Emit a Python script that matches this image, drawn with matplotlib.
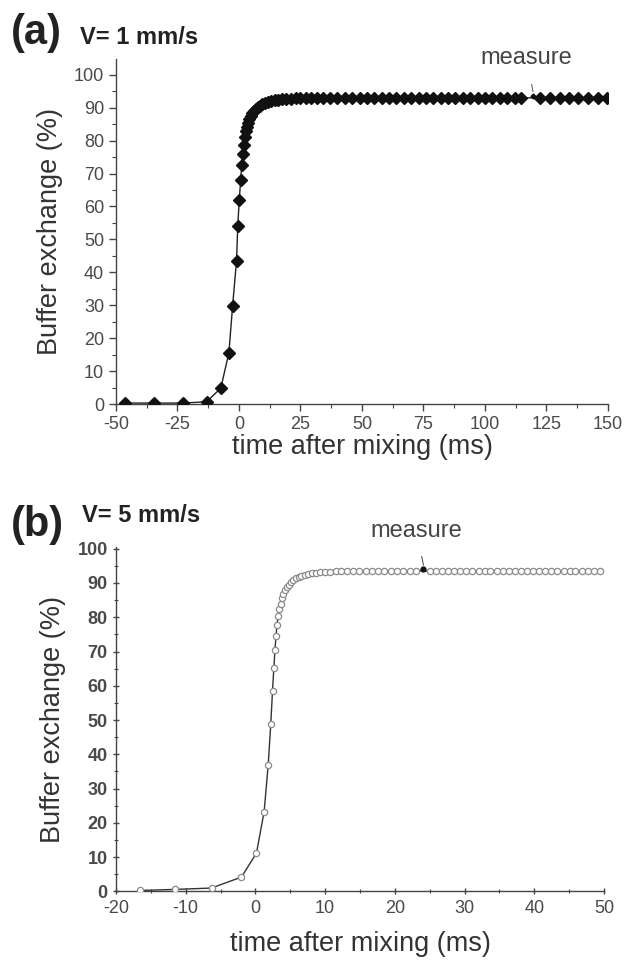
import matplotlib
matplotlib.use('Agg')
import matplotlib.pyplot as plt
from matplotlib.ticker import MultipleLocator

plt.rcParams['font.family'] = ['Liberation Sans', 'DejaVu Sans']
plt.rcParams['axes.unicode_minus'] = False

# panel (a): V = 1 mm/s
t_a = [-46.5, -34.5, -22.6, -13.2, -7.4, -4.1, -2.6, -1.0, -0.5, 0.1, 0.7, 1.1, 1.5,
       1.9, 2.3, 2.7, 3.1, 3.6, 4.1, 4.7, 5.3, 6.0, 6.8, 7.6, 8.5, 9.5, 10.6, 11.8,
       13.1, 14.5, 16.0, 17.6, 19.3, 21.1, 23.0, 25.0, 27.1, 29.3, 31.6, 34.0, 37.0,
       40.0, 43.0, 46.0, 49.0, 52.0, 55.0, 58.0, 61.0, 64.0, 67.0, 70.0, 73.0, 76.0,
       79.0, 82.0, 85.0, 88.0, 91.0, 94.0, 97.0, 100.0, 103.0, 106.0, 109.0, 112.0,
       114.5, 122.5, 126.4, 130.3, 134.2, 138.0, 141.9, 145.8, 149.6]
y_a = [0.3, 0.3, 0.3, 0.7, 4.8, 15.6, 29.8, 43.5, 54.0, 62.0, 68.0, 72.6, 76.0,
       78.8, 81.0, 82.8, 84.2, 85.5, 86.6, 87.5, 88.3, 89.0, 89.6, 90.1, 90.6, 91.0,
       91.4, 91.7, 92.0, 92.2, 92.4, 92.5, 92.6, 92.7, 92.8, 92.9, 92.9, 93.0, 93.0,
       93.0, 93.0, 93.0, 93.0, 93.0, 93.0, 93.0, 93.0, 93.0, 93.0, 93.0, 93.0, 93.0,
       93.0, 93.0, 93.0, 93.0, 93.0, 93.0, 93.0, 93.0, 93.0, 93.0, 93.0, 93.0, 93.0,
       93.0, 93.0, 93.0, 93.0, 93.0, 93.0, 93.0, 93.0, 93.0, 93.0]
measure_a = (119.5, 93.4)

# panel (b): V = 5 mm/s
t_b = [-16.5, -11.5, -6.3, -2.0, 0.15, 1.25, 1.83, 2.2, 2.45, 2.64, 2.8, 2.95, 3.1,
       3.25, 3.4, 3.6, 3.8, 4.0, 4.25, 4.5, 4.8, 5.1, 5.45, 5.8, 6.2, 6.6, 7.1, 7.6,
       8.1, 8.7, 9.3, 10.0, 10.7, 11.5, 12.3, 13.1, 14.0, 14.9, 15.8, 16.7, 17.6,
       18.5, 19.4, 20.3, 21.2, 22.1, 23.0, 25.0, 25.9, 26.8, 27.6, 28.5, 29.4, 30.2,
       31.1, 32.0, 32.9, 33.7, 34.6, 35.5, 36.3, 37.2, 38.1, 39.0, 39.8, 40.7, 41.6,
       42.4, 43.3, 44.2, 45.1, 45.9, 46.8, 47.7, 48.5, 49.4]
y_b = [0.3, 0.6, 1.0, 4.2, 11.2, 23.3, 36.9, 48.8, 58.5, 65.2, 70.4, 74.6, 77.8,
       80.3, 82.3, 84.0, 85.5, 86.7, 87.8, 88.7, 89.5, 90.2, 90.8, 91.3, 91.7, 92.0,
       92.3, 92.6, 92.8, 93.0, 93.1, 93.2, 93.3, 93.4, 93.4, 93.5, 93.5, 93.5, 93.5,
       93.5, 93.5, 93.5, 93.5, 93.5, 93.5, 93.5, 93.5, 93.5, 93.5, 93.5, 93.5, 93.5,
       93.5, 93.5, 93.5, 93.5, 93.5, 93.5, 93.5, 93.5, 93.5, 93.5, 93.5, 93.5, 93.5,
       93.5, 93.5, 93.5, 93.5, 93.5, 93.5, 93.5, 93.5, 93.5, 93.5, 93.5]
measure_b = (24.1, 94.2)

tick_grey = '#4a4a4a'

fig = plt.figure(figsize=(6.29, 9.65), dpi=100)
ax1 = fig.add_axes([0.1844, 0.5813, 0.7822, 0.3576])
ax2 = fig.add_axes([0.1844, 0.0762, 0.7759, 0.3570])


def style_axis(ax, direction, xpad):
    for s in ['top', 'right']:
        ax.spines[s].set_visible(False)
    for s in ['left', 'bottom']:
        ax.spines[s].set_color('#444444')
        ax.spines[s].set_linewidth(1.0)
    ax.tick_params(which='major', direction=direction, length=5, width=1,
                   color='#444444', labelsize=13, labelcolor=tick_grey)
    ax.tick_params(which='minor', direction=direction, length=3, width=0.8,
                   color='#444444')
    ax.set_ylabel('Buffer exchange (%)', fontsize=19.5, color='#333333', labelpad=8)
    ax.set_xlabel('time after mixing (ms)', fontsize=19.5, color='#333333', labelpad=xpad)


# (a)
ax1.plot(t_a, y_a, color='#222222', lw=1.0, marker='D', ms=6.5,
         mfc='#111111', mec='#111111', zorder=3)
ax1.plot(*measure_a, marker='D', ms=2.5, color='#111111', zorder=4)
ax1.annotate('measure', xy=(measure_a[0], measure_a[1] + 1.5),
             xytext=(117, 105), ha='center', va='center', fontsize=17,
             color='#444444', annotation_clip=False,
             arrowprops=dict(arrowstyle='-', color='#666666', lw=0.8, shrinkA=9, shrinkB=0))
ax1.set_xlim(-50, 150)
ax1.set_ylim(0, 104.8)
ax1.xaxis.set_major_locator(MultipleLocator(25))
ax1.xaxis.set_minor_locator(MultipleLocator(12.5))
ax1.set_yticks(range(0, 101, 10))
ax1.yaxis.set_minor_locator(MultipleLocator(5))
style_axis(ax1, 'out', 1)

# (b)
ax2.plot(t_b, y_b, color='#333333', lw=1.0, marker='o', ms=4.5,
         mfc='white', mec='#8a8a8a', mew=0.9, zorder=3)
ax2.plot(*measure_b, marker='o', ms=3.5, color='#111111', zorder=4)
ax2.annotate('measure', xy=(measure_b[0], measure_b[1] + 1.0),
             xytext=(23.1, 105.3), ha='center', va='center', fontsize=17,
             color='#444444', annotation_clip=False,
             arrowprops=dict(arrowstyle='-', color='#555555', lw=0.8, shrinkA=9, shrinkB=0))
ax2.set_xlim(-20, 50)
ax2.set_ylim(0, 100.5)
ax2.xaxis.set_major_locator(MultipleLocator(10))
ax2.xaxis.set_minor_locator(MultipleLocator(5))
ax2.set_yticks(range(0, 101, 10))
ax2.yaxis.set_minor_locator(MultipleLocator(5))
style_axis(ax2, 'inout', 10)
for lab in ax2.get_yticklabels():
    lab.set_fontweight('bold')

# panel labels
fig.text(0.018, 0.966, '(a)', fontsize=30, fontweight='bold', color='#222222', va='center')
fig.text(0.127, 0.961, 'V= 1 mm/s', fontsize=17, fontweight='bold', color='#222222', va='center')
fig.text(0.018, 0.456, '(b)', fontsize=30, fontweight='bold', color='#222222', va='center')
fig.text(0.130, 0.466, 'V= 5 mm/s', fontsize=17, fontweight='bold', color='#222222', va='center')

fig.savefig('out.png', dpi=100)
